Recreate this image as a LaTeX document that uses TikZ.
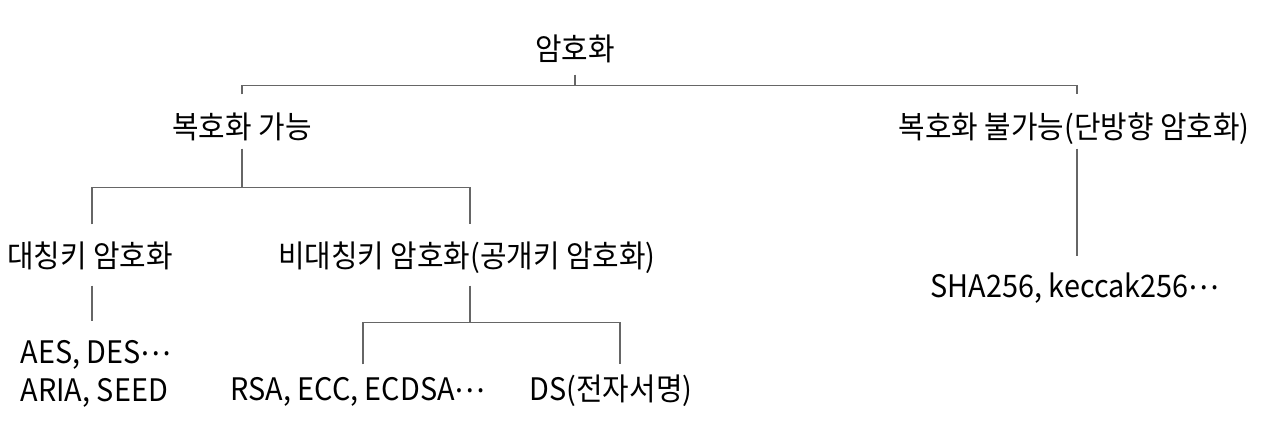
\documentclass[tikz,border=0pt]{standalone}
\usepackage{fontspec}
\setmainfont[FakeStretch=0.93]{Noto Sans CJK KR}
\newcommand\middots{\raisebox{0.27em}{…}}
\begin{document}
\begin{tikzpicture}
  [txt/.style={inner sep=0pt, text height=0.26cm, text depth=0.04cm,
     font=\fontsize{0.31cm}{0.38cm}\selectfont},
   conn/.style={draw=black!60, line width=0.45pt}]
  \useasboundingbox (0,0) rectangle (12.72,-4.37);

  \node[txt] (root) at (5.75,-0.50) {암호화};
  \node[txt] (dec) at (2.42,-1.28) {복호화 가능};
  \node[txt] (irr) at (10.74,-1.28) {복호화 불가능(단방향 암호화)};
  \node[txt] (sym) at (0.90,-2.57) {대칭키 암호화};
  \node[txt] (asym) at (4.67,-2.57) {비대칭키 암호화(공개키 암호화)};
  \node[inner sep=0pt, align=left, anchor=north west,
    font=\fontsize{0.31cm}{0.38cm}\selectfont] (symex) at (0.20,-3.40) {AES, DES\middots\\ARIA, SEED};
  \node[txt] (rsa) at (3.58,-3.90) {RSA, ECC, ECDSA\middots};
  \node[txt] (ds) at (6.11,-3.90) {DS(전자서명)};
  \node[txt] (sha) at (10.75,-2.87) {SHA256, keccak256\middots};

  % top level
  \draw[conn] ([yshift=-0.09cm]root.south) -- ++(0,-0.11) coordinate (top);
  \draw[conn] ([yshift=0.18cm]dec.north) |- (top) -| ([xshift=0.03cm,yshift=0.18cm]irr.north);
  \draw[conn] ([xshift=0.03cm,yshift=-0.05cm]irr.south) -- ++(0,-1.07);

  % decryptable
  \draw[conn] ([yshift=-0.05cm]dec.south) -- ++(0,-0.39) coordinate (mid);
  \draw[conn] ([xshift=0.02cm,yshift=0.17cm]sym.north) |- (mid) -| ([xshift=0.03cm,yshift=0.17cm]asym.north);
  \draw[conn] ([xshift=0.02cm,yshift=-0.13cm]sym.south) -- ++(0,-0.35);

  % public key
  \draw[conn] ([xshift=0.03cm,yshift=-0.13cm]asym.south) -- ++(0,-0.37) coordinate (low);
  \draw[conn] ([xshift=0.05cm,yshift=0.10cm]rsa.north) |- (low) -| ([xshift=0.09cm,yshift=0.10cm]ds.north);
\end{tikzpicture}
\end{document}
